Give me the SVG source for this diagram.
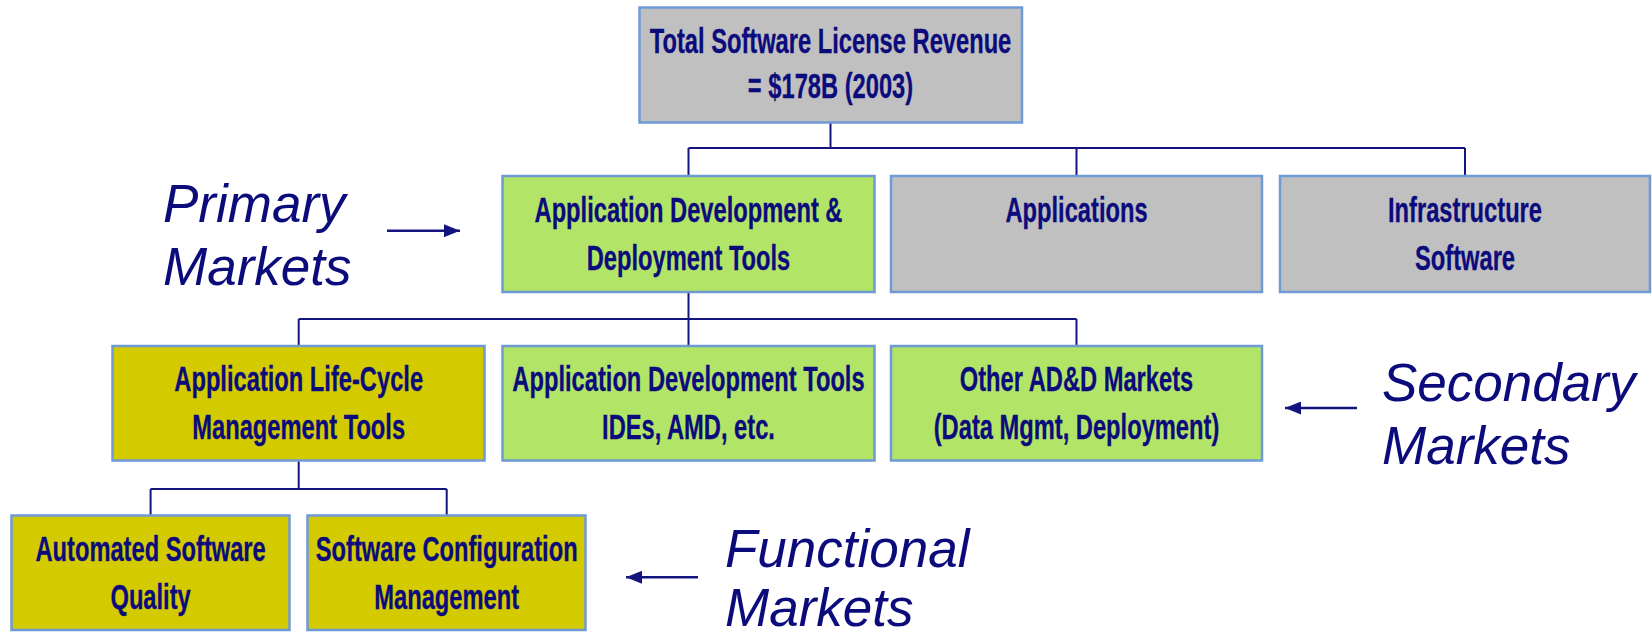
<svg xmlns="http://www.w3.org/2000/svg" width="1652" height="634" viewBox="0 0 1652 634">
<style>
.box{stroke:#6f9ad6;stroke-width:2.5}
.grey{fill:#c0c0c0}
.green{fill:#b2e468}
.olive{fill:#d3cb00}
.t{font-family:"Liberation Sans",Arial,sans-serif;font-weight:bold;font-size:34.5px;fill:#0b0b7c;stroke:#0b0b7c;stroke-width:0.3;text-anchor:middle}
.lbl{font-family:"Liberation Sans",Arial,sans-serif;font-style:italic;font-size:53px;fill:#0b0b7c}
.conn{stroke:#14147e;stroke-width:2;fill:none}
.arr{stroke:#14147e;stroke-width:2.4;fill:none}
</style>
<defs>
<marker id="ah" viewBox="0 0 16 13" refX="16" refY="6.5" markerWidth="16" markerHeight="13" markerUnits="userSpaceOnUse" orient="auto">
<path d="M0,0 L16,6.5 L0,13 z" fill="#14147e"/>
</marker>
</defs>
<rect width="1652" height="634" fill="#ffffff"/>
<g id="connectors">
<path class="conn" d="M830.5,122.5 V148 M688.5,148 H1465 M688.5,148 V176 M1076.5,148 V176 M1465,148 V176"/>
<path class="conn" d="M688.5,292 V346 M298.7,319 H1076.5 M298.7,319 V346 M1076.5,319 V346"/>
<path class="conn" d="M298.7,460.5 V489 M150.6,489 H446.7 M150.6,489 V515.5 M446.7,489 V515.5"/>
<line class="arr" x1="387" y1="230.7" x2="460" y2="230.7" marker-end="url(#ah)"/>
<line class="arr" x1="1357" y1="408" x2="1285" y2="408" marker-end="url(#ah)"/>
<line class="arr" x1="698" y1="577.3" x2="626" y2="577.3" marker-end="url(#ah)"/>
</g>
<g id="total">
<rect class="box grey" x="639.5" y="7.5" width="382.5" height="115"/>
<text class="t" transform="translate(830.5 53) scale(0.687 1)">Total Software License Revenue</text>
<text class="t" transform="translate(830.5 98) scale(0.687 1)">= $178B (2003)</text>
</g>
<g id="addt">
<rect class="box green" x="502.5" y="176" width="372" height="116"/>
<text class="t" transform="translate(688.5 222) scale(0.687 1)">Application Development &amp;</text>
<text class="t" transform="translate(688.5 270) scale(0.687 1)">Deployment Tools</text>
</g>
<g id="applications">
<rect class="box grey" x="891" y="176" width="371" height="116"/>
<text class="t" transform="translate(1076.5 222) scale(0.687 1)">Applications</text>
</g>
<g id="infrastructure">
<rect class="box grey" x="1280" y="176" width="370" height="116"/>
<text class="t" transform="translate(1465 222) scale(0.687 1)">Infrastructure</text>
<text class="t" transform="translate(1465 270) scale(0.687 1)">Software</text>
</g>
<g id="alm">
<rect class="box olive" x="112.5" y="346" width="372" height="114.5"/>
<text class="t" transform="translate(298.7 391) scale(0.687 1)">Application Life-Cycle</text>
<text class="t" transform="translate(298.7 439) scale(0.687 1)">Management Tools</text>
</g>
<g id="adt">
<rect class="box green" x="502.5" y="346" width="372" height="114.5"/>
<text class="t" transform="translate(688.5 391) scale(0.687 1)">Application Development Tools</text>
<text class="t" transform="translate(688.5 439) scale(0.687 1)">IDEs, AMD, etc.</text>
</g>
<g id="other">
<rect class="box green" x="891" y="346" width="371" height="114.5"/>
<text class="t" transform="translate(1076.5 391) scale(0.687 1)">Other AD&amp;D Markets</text>
<text class="t" transform="translate(1076.5 439) scale(0.687 1)">(Data Mgmt, Deployment)</text>
</g>
<g id="asq">
<rect class="box olive" x="11.5" y="515.5" width="278" height="114.5"/>
<text class="t" transform="translate(150.6 560.5) scale(0.687 1)">Automated Software</text>
<text class="t" transform="translate(150.6 608.5) scale(0.687 1)">Quality</text>
</g>
<g id="scm">
<rect class="box olive" x="307.5" y="515.5" width="278" height="114.5"/>
<text class="t" transform="translate(446.7 560.5) scale(0.687 1)">Software Configuration</text>
<text class="t" transform="translate(446.7 608.5) scale(0.687 1)">Management</text>
</g>
<g id="labels">
<text class="lbl" x="163" y="221.5">Primary</text>
<text class="lbl" x="163" y="285">Markets</text>
<text class="lbl" x="1382" y="401">Secondary</text>
<text class="lbl" x="1382" y="464">Markets</text>
<text class="lbl" x="725" y="567">Functional</text>
<text class="lbl" x="725" y="626">Markets</text>
</g>
</svg>
